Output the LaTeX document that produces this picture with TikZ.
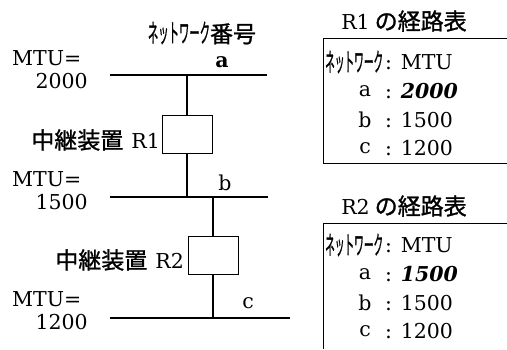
\documentclass[tikz,border=0pt]{standalone}
\usepackage{fontspec}
\setmainfont{DejaVu Serif}
\newfontfamily\jp{Noto Sans CJK JP}[FakeBold=1.2]
\begin{document}
\begin{tikzpicture}[x=1pt,y=-1pt,
  net/.style={line width=1.4pt},
  link/.style={line width=1.1pt},
  rbox/.style={draw, line width=0.9pt, minimum width=50pt, minimum height=38pt, inner sep=0pt},
  lat/.style={font=\fontsize{20.5}{20.5}\selectfont, inner sep=0pt},
  jpt/.style={font=\jp\fontsize{23}{23}\selectfont, inner sep=0pt},
  tline/.style={line width=1pt}]
\useasboundingbox (0,0) rectangle (507,349);
% network lines
\coordinate (al) at (110,75);  \coordinate (ar) at (267,75);
\coordinate (bl) at (110,197); \coordinate (br) at (268,197);
\coordinate (cl) at (110,318); \coordinate (cr) at (290,318);
\draw[net] (al) -- (ar);
\draw[net] (bl) -- (br);
\draw[net] (cl) -- (cr);
% routers
\node[rbox] (r1) at (187,134) {};
\node[rbox] (r2) at (213,255.5) {};
\draw[link] (r1.north) -- (r1.north |- al);
\draw[link] (r1.south) -- (r1.south |- bl);
\draw[link] (r2.north) -- (r2.north |- bl);
\draw[link] (r2.south) -- (r2.south |- cl);
% labels left
\node[jpt] (netno) at (202,33) {\scalebox{0.45}[1.12]{ネットワーク}番号};
\node[lat, font=\fontsize{20.5}{20.5}\selectfont\bfseries] (la) at (222,62) {a};
\node[lat] (lb) at (225,183) {b};
\node[lat] (lc) at (248,303) {c};
\node[lat, anchor=west] (m1) at (12,58.5) {MTU=};
\node[lat, anchor=east] (v1) at (88,81) {2000};
\node[lat, anchor=west] (m2) at (12,179.5) {MTU=};
\node[lat, anchor=east] (v2) at (88,202) {1500};
\node[lat, anchor=west] (m3) at (12,299.5) {MTU=};
\node[lat, anchor=east] (v3) at (88,322) {1200};
\node[jpt, anchor=east] (r1lab) at (160,140) {中継装置\hspace{8pt}{\rmfamily\fontsize{20.5}{20.5}\selectfont R1}};
\node[jpt, anchor=east] (r2lab) at (184,260) {中継装置\hspace{8pt}{\rmfamily\fontsize{20.5}{20.5}\selectfont R2}};
% table R1
\node[jpt] (t1) at (404,21) {{\rmfamily\fontsize{20.5}{20.5}\selectfont R1}\hspace{5pt}の経路表};
\draw[tline] (507,38) -- (323,38) -- (323,163) -- (507,163);
\node[jpt, anchor=west] (h1) at (325,62) {\scalebox{0.42}[1.12]{ネットワーク}};
\node[lat, anchor=west] (h1m) at (385,62) {: MTU};
\node[lat] (a1) at (365,91) {a};
\node[lat, anchor=west] (a1m) at (385,91) {: \textbf{\textit{2000}}};
\node[lat] (b1) at (365,120) {b};
\node[lat, anchor=west] (b1m) at (385,120) {: 1500};
\node[lat] (c1) at (365,148) {c};
\node[lat, anchor=west] (c1m) at (385,148) {: 1200};
% table R2
\node[jpt] (t2) at (404,206) {{\rmfamily\fontsize{20.5}{20.5}\selectfont R2}\hspace{5pt}の経路表};
\draw[tline] (507,223) -- (323,223) -- (323,349);
\node[jpt, anchor=west] (h2) at (325,245) {\scalebox{0.42}[1.12]{ネットワーク}};
\node[lat, anchor=west] (h2m) at (385,245) {: MTU};
\node[lat] (a2) at (365,274) {a};
\node[lat, anchor=west] (a2m) at (385,274) {: \textbf{\textit{1500}}};
\node[lat] (b2) at (365,303) {b};
\node[lat, anchor=west] (b2m) at (385,303) {: 1500};
\node[lat] (c2) at (365,331) {c};
\node[lat, anchor=west] (c2m) at (385,331) {: 1200};
\end{tikzpicture}
\end{document}
